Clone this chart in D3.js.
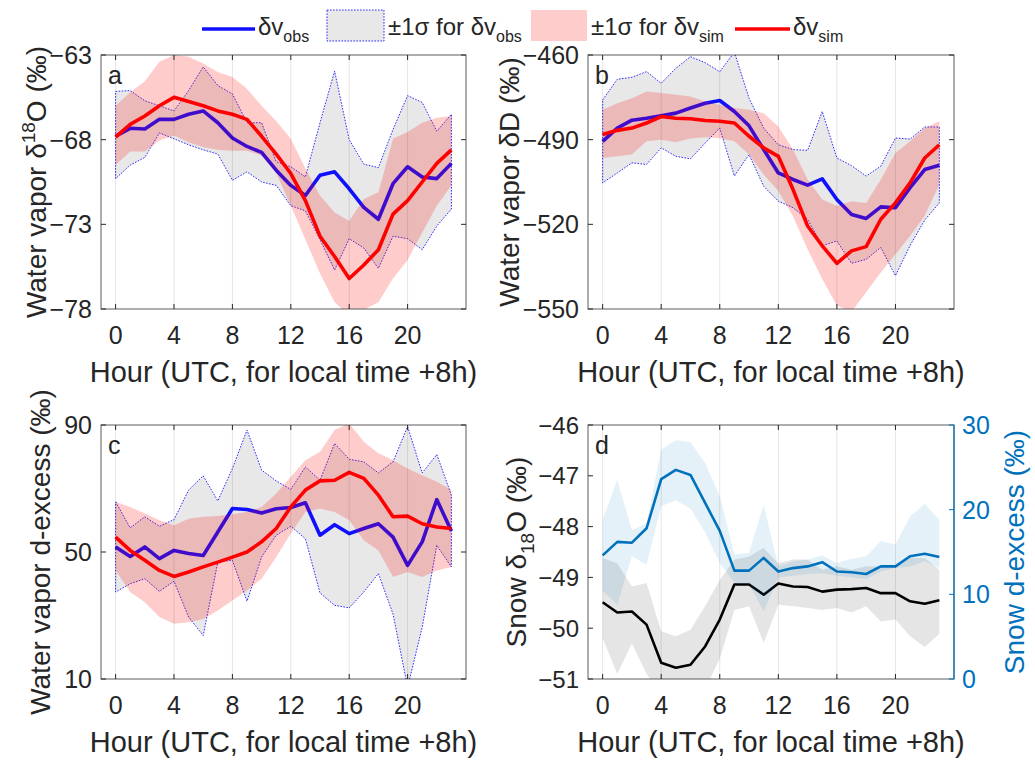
<!DOCTYPE html>
<html><head><meta charset="utf-8">
<script src="https://cdn.jsdelivr.net/npm/d3@7"></script>
<style>body{margin:0;background:#fff} text{font-family:"Liberation Sans",Arial,sans-serif;fill:#262626}</style>
</head><body><svg id="chart" width="1035" height="760"></svg>
<script>
// ---------- data ----------
const hours = d3.range(0, 24);
const xTicks = [0, 4, 8, 12, 16, 20];

// Panel a: water vapour d18O
const a_obs      = [-67.8,-67.33,-67.37,-66.8,-66.8,-66.5,-66.3,-67.0,-67.9,-68.4,-68.75,-69.8,-70.7,-71.3,-70.1,-69.9,-70.9,-72.0,-72.7,-70.6,-69.6,-70.2,-70.3,-69.4];
const a_obsHi    = [-65.15,-65.1,-65.7,-66.0,-66.3,-65.1,-63.7,-64.8,-65.3,-67.0,-67.0,-69.3,-69.6,-70.2,-67.0,-63.95,-68.0,-69.45,-69.65,-67.4,-65.4,-65.8,-67.5,-66.5];
const a_obsLo    = [-70.3,-69.5,-69.05,-67.6,-67.95,-68.3,-68.6,-68.85,-70.4,-69.9,-70.5,-70.7,-71.9,-72.2,-73.9,-75.7,-73.85,-74.4,-75.6,-73.7,-73.85,-74.5,-73.1,-72.1];
const a_sim      = [-67.85,-67.1,-66.6,-66.0,-65.5,-65.75,-66.0,-66.3,-66.5,-66.8,-67.8,-68.85,-70.0,-71.6,-73.7,-74.9,-76.2,-75.4,-74.5,-72.4,-71.6,-70.5,-69.4,-68.6];
const a_simHi    = [-66.0,-65.2,-64.55,-63.4,-63.0,-63.1,-63.5,-64.0,-64.3,-65.0,-66.0,-66.9,-67.95,-69.7,-71.3,-72.3,-72.8,-71.5,-71.1,-67.95,-67.55,-67.0,-66.7,-66.6];
const a_simLo    = [-69.5,-68.7,-68.7,-68.05,-67.75,-68.15,-68.45,-68.6,-68.65,-68.65,-68.95,-69.95,-71.9,-73.9,-75.9,-77.6,-78.4,-78.05,-77.6,-76.2,-75.1,-73.5,-71.9,-70.7];

// Panel b: water vapour dD
const b_obs      = [-490.6,-485.9,-483.1,-482.4,-481.5,-480.6,-478.8,-477.1,-476.1,-480.0,-485.1,-493.5,-501.8,-504.1,-506.1,-503.9,-511.2,-516.5,-517.9,-513.8,-514.1,-507.0,-500.6,-499.1];
const b_obsHi    = [-475.9,-468.6,-467.9,-465.9,-470.0,-464.7,-460.6,-462.7,-465.9,-459.0,-475.3,-485.9,-491.8,-493.5,-493.8,-480.0,-496.5,-499.2,-502.9,-499.4,-489.4,-489.8,-485.5,-485.5];
const b_obsLo    = [-505.3,-501.8,-498.2,-498.8,-492.9,-495.9,-496.8,-491.2,-485.9,-502.9,-495.3,-506.5,-511.8,-514.1,-518.2,-527.6,-525.9,-533.8,-532.4,-528.2,-538.2,-527.5,-518.5,-512.4];
const b_sim      = [-488.2,-486.7,-485.9,-484.1,-481.8,-482.4,-482.6,-483.2,-483.5,-484.1,-488.8,-492.9,-495.9,-507.6,-520.6,-527.6,-533.8,-529.4,-527.9,-518.2,-512.4,-505.3,-496.5,-491.8];
const b_simHi    = [-479.4,-477.1,-475.3,-472.9,-473.5,-474.1,-474.7,-476.5,-477.6,-478.8,-479.4,-480.6,-485.3,-493.5,-504.1,-511.2,-513.5,-511.8,-512.4,-504.1,-494.7,-490.6,-485.9,-483.5];
const b_simLo    = [-496.5,-495.9,-495.3,-490.6,-490.0,-490.9,-489.6,-489.1,-489.5,-490.6,-495.3,-502.4,-508.2,-517.1,-528.8,-539.4,-548.8,-551.0,-544.1,-537.1,-530.6,-524.1,-517.0,-505.9];

// Panel c: water vapour d-excess
const c_obs      = [51.6,48.6,51.6,47.9,50.5,49.5,48.9,56.3,63.7,63.4,62.3,63.6,64.0,65.5,55.3,58.6,55.8,57.4,58.9,54.7,45.8,53.2,66.5,56.6];
const c_obsHi    = [65.8,57.6,61.1,58.1,60.2,69.5,74.0,66.1,76.3,88.4,75.8,72.4,69.7,76.8,72.6,84.2,79.2,78.4,74.9,78.4,89.5,74.9,80.7,67.9];
const c_obsLo    = [37.4,40.0,41.6,37.6,40.8,29.5,23.7,46.8,47.4,34.5,48.4,55.3,58.1,54.2,37.1,33.2,32.4,37.4,43.2,30.5,7.4,26.3,52.1,45.3];
const c_sim      = [54.7,50.5,47.4,44.2,42.3,43.7,45.3,46.8,48.4,50.0,53.2,57.4,64.2,69.5,72.4,72.6,75.1,73.2,67.9,61.1,61.3,58.9,57.9,57.4];
const c_simHi    = [65.8,64.2,62.1,60.0,58.4,60.5,61.1,61.3,61.9,62.6,64.2,68.4,73.7,78.9,81.6,88.4,90.5,84.7,81.1,78.9,76.3,74.2,72.1,69.5];
const c_simLo    = [44.2,37.4,34.2,29.5,27.4,27.9,28.9,31.6,34.7,37.9,41.6,48.4,55.8,62.6,63.7,62.6,60.0,53.7,50.5,42.1,43.7,42.1,44.2,45.3];

// Panel d: snow d18O (left) and snow d-excess (right)
const d_o18      = [-49.49,-49.69,-49.67,-49.93,-50.68,-50.78,-50.72,-50.36,-49.83,-49.14,-49.14,-49.34,-49.12,-49.18,-49.19,-49.28,-49.24,-49.23,-49.21,-49.31,-49.31,-49.47,-49.52,-49.45];
const d_o18Hi    = [-48.62,-48.72,-49.18,-49.11,-50.06,-50.16,-50.03,-49.57,-49.05,-48.65,-48.59,-48.42,-48.72,-48.65,-48.65,-48.85,-48.78,-48.85,-48.78,-48.78,-48.78,-48.62,-48.62,-48.85];
const d_o18Lo    = [-50.2,-50.9,-50.3,-50.9,-51.3,-51.4,-51.4,-51.2,-50.6,-49.64,-49.57,-50.29,-49.54,-49.57,-49.6,-49.64,-49.6,-49.69,-49.57,-49.87,-49.83,-50.16,-50.37,-50.11];
const d_dex      = [14.6,16.2,16.1,17.8,23.6,24.7,24.1,20.8,17.5,12.8,12.8,14.3,12.7,13.1,13.3,13.8,12.7,12.6,12.4,13.3,13.3,14.5,14.8,14.4];
const d_dexHi    = [18.8,23.5,17.6,18.4,27.1,28.2,28.0,25.5,21.6,14.7,14.9,20.6,13.3,13.9,14.1,14.6,13.7,14.2,14.5,16.3,15.9,19.2,20.7,18.8];
const d_dexLo    = [10.4,8.8,14.5,13.5,20.4,21.1,20.1,17.3,13.7,11.4,11.2,8.0,12.0,12.2,12.4,12.5,12.2,12.0,11.8,12.7,13.1,13.3,13.9,13.1];

const aTicks = [-78,-73,-68,-63];
const bTicks = [-550,-520,-490,-460];
const cTicks = [10,50,90];
const dTicksL = [-51,-50,-49,-48,-47,-46];
const dTicksR = [0,10,20,30];

// ---------- drawing ----------
const svg = d3.select("#chart");
const FS_TICK = 25, FS_XLAB = 29, FS_YLAB = 28;
const AXC = "#262626", DBLUE = "#0072bd";
const fmt = d3.format("");
let clipId = 0;

function frame(left, right, top, bottom, yDomain) {
  const x = d3.scaleLinear().domain([-1, 24]).range([left, right]);
  const y = d3.scaleLinear().domain(yDomain).range([bottom, top]);
  const id = "clip" + (clipId++);
  svg.append("clipPath").attr("id", id).append("rect")
    .attr("x", left).attr("y", top).attr("width", right - left).attr("height", bottom - top);
  const g = svg.append("g").attr("clip-path", `url(#${id})`);
  return {x, y, g, left, right, top, bottom};
}

function band(f, hi, lo, yScale, fill, opts = {}) {
  const ys = yScale || f.y;
  const area = d3.area().x((d, i) => f.x(hours[i])).y0((d, i) => ys(lo[i])).y1(d => ys(d));
  f.g.append("path").datum(hi).attr("d", area).attr("fill", fill)
    .attr("fill-opacity", opts.opacity == null ? 1 : opts.opacity);
  if (opts.edge) {
    const pts = hours.map((h, i) => [f.x(h), ys(hi[i])]).concat(hours.slice().reverse().map(h => [f.x(h), ys(lo[h])]));
    f.g.append("path").attr("d", "M" + pts.join("L") + "Z").attr("fill", "none")
      .attr("stroke", opts.edge).attr("stroke-width", 0.9).attr("stroke-dasharray", "1.6,1.4");
  }
}

function line(f, vals, color, w, yScale) {
  const ys = yScale || f.y;
  f.g.append("path").datum(vals)
    .attr("d", d3.line().x((d, i) => f.x(hours[i])).y(d => ys(d)))
    .attr("fill", "none").attr("stroke", color).attr("stroke-width", w)
    .attr("stroke-linejoin", "round");
}

function axes(f, ticks, label, opts = {}) {
  xTicks.forEach(t => {
    svg.append("line").attr("x1", f.x(t)).attr("x2", f.x(t)).attr("y1", f.top).attr("y2", f.bottom)
      .attr("stroke", "#000").attr("stroke-opacity", 0.1).attr("stroke-width", 1);
  });
  const tl = 5;
  xTicks.forEach(t => {
    const xx = f.x(t);
    svg.append("line").attr("x1", xx).attr("x2", xx).attr("y1", f.bottom).attr("y2", f.bottom - tl).attr("stroke", AXC);
    svg.append("line").attr("x1", xx).attr("x2", xx).attr("y1", f.top).attr("y2", f.top + tl).attr("stroke", AXC);
    svg.append("text").attr("x", xx).attr("y", f.bottom + 35).attr("text-anchor", "middle")
      .attr("font-size", FS_TICK).text(fmt(t));
  });
  ticks.forEach(t => {
    const yy = f.y(t);
    svg.append("line").attr("x1", f.left).attr("x2", f.left + tl).attr("y1", yy).attr("y2", yy).attr("stroke", AXC);
    if (!opts.noRightTicks)
      svg.append("line").attr("x1", f.right).attr("x2", f.right - tl).attr("y1", yy).attr("y2", yy).attr("stroke", AXC);
    svg.append("text").attr("x", f.left - 9).attr("y", yy).attr("dy", "0.36em").attr("text-anchor", "end")
      .attr("font-size", opts.tickFs || FS_TICK).text(fmt(t));
  });
  svg.append("rect").attr("x", f.left).attr("y", f.top).attr("width", f.right - f.left).attr("height", f.bottom - f.top)
    .attr("fill", "none").attr("stroke", AXC).attr("stroke-width", 1).attr("stroke-opacity", 0.75);
  svg.append("text").attr("x", (f.left + f.right) / 2).attr("y", f.bottom + 73).attr("text-anchor", "middle")
    .attr("font-size", FS_XLAB).text("Hour (UTC, for local time +8h)");
  svg.append("text").attr("x", f.left + 7).attr("y", f.top + 29).attr("font-size", 25).attr("fill", "#000").text(opts.letter);
  const yl = svg.append("text").attr("transform", `translate(${opts.labelX},${(f.top + f.bottom) / 2}) rotate(-90)`)
    .attr("text-anchor", "middle").attr("font-size", FS_YLAB);
  label(yl);
}

function permil(t) { t.append("tspan").text(" (‰)"); }

// Panel a
{
  const f = frame(101, 466, 55, 309, [-78, -63]);
  band(f, a_obsHi, a_obsLo, null, "#e8e8e8", {edge: "#1a1aff"});
  line(f, a_obs, "#1010ff", 3.6);
  band(f, a_simHi, a_simLo, null, "#ff0000", {opacity: 0.2});
  line(f, a_sim, "#ff0000", 3.6);
  axes(f, aTicks, t => {
    t.append("tspan").text("Water vapor δ");
    t.append("tspan").attr("font-size", 19).attr("dy", -11).text("18");
    t.append("tspan").attr("dy", 11).text("O");
    permil(t);
  }, {letter: "a", labelX: 46});
}
// Panel b
{
  const f = frame(588, 954, 55, 309, [-550, -460]);
  band(f, b_obsHi, b_obsLo, null, "#e8e8e8", {edge: "#1a1aff"});
  line(f, b_obs, "#1010ff", 3.6);
  band(f, b_simHi, b_simLo, null, "#ff0000", {opacity: 0.2});
  line(f, b_sim, "#ff0000", 3.6);
  axes(f, bTicks, t => { t.append("tspan").text("Water vapor δD"); permil(t); }, {letter: "b", labelX: 519});
}
// Panel c
{
  const f = frame(101, 466, 425, 679, [10, 90]);
  band(f, c_obsHi, c_obsLo, null, "#e8e8e8", {edge: "#1a1aff"});
  line(f, c_obs, "#1010ff", 3.6);
  band(f, c_simHi, c_simLo, null, "#ff0000", {opacity: 0.2});
  line(f, c_sim, "#ff0000", 3.6);
  axes(f, cTicks, t => { t.append("tspan").text("Water vapor d-excess"); permil(t); }, {letter: "c", labelX: 50});
}
// Panel d
{
  const f = frame(588, 954, 425, 679, [-51, -46]);
  const yR = d3.scaleLinear().domain([0, 30]).range([679, 425]);
  band(f, d_o18Hi, d_o18Lo, null, "#000000", {opacity: 0.1});
  line(f, d_o18, "#000000", 2.6);
  band(f, d_dexHi, d_dexLo, yR, DBLUE, {opacity: 0.1});
  line(f, d_dex, DBLUE, 2.6, yR);
  axes(f, dTicksL, t => {
    t.append("tspan").text("Snow δ");
    t.append("tspan").attr("font-size", 19).attr("dy", 8).text("18");
    t.append("tspan").attr("dy", -8).text("O");
    permil(t);
  }, {letter: "d", noRightTicks: true, labelX: 526, tickFs: 24});
  svg.append("line").attr("x1", 954).attr("x2", 954).attr("y1", 425).attr("y2", 679).attr("stroke", DBLUE).attr("stroke-width", 1.2);
  dTicksR.forEach(t => {
    const yy = yR(t);
    svg.append("line").attr("x1", 954).attr("x2", 949).attr("y1", yy).attr("y2", yy).attr("stroke", DBLUE);
    svg.append("text").attr("x", 962).attr("y", yy).attr("dy", "0.36em").attr("font-size", FS_TICK)
      .style("fill", DBLUE).text(fmt(t));
  });
  svg.append("text").attr("transform", `translate(1024,552) rotate(-90)`).attr("text-anchor", "middle")
    .attr("font-size", FS_YLAB).style("fill", DBLUE).text("Snow d-excess (‰)");
}

// ---------- legend ----------
{
  const L = svg.append("g");
  const yMid = 29, fs = 24, sub = 16;
  function lbl(x, main, s) {
    const t = L.append("text").attr("x", x).attr("y", 35).attr("font-size", fs);
    t.append("tspan").text(main);
    t.append("tspan").attr("font-size", sub).attr("dy", 7).text(s);
  }
  L.append("line").attr("x1", 202).attr("x2", 255).attr("y1", yMid).attr("y2", yMid).attr("stroke", "#1010ff").attr("stroke-width", 3.6);
  lbl(258, "δv", "obs");
  L.append("rect").attr("x", 327).attr("y", 10).attr("width", 57).attr("height", 31).attr("fill", "#e8e8e8")
    .attr("stroke", "#1a1aff").attr("stroke-width", 0.9).attr("stroke-dasharray", "1.6,1.4");
  lbl(388, "±1σ for δv", "obs");
  L.append("rect").attr("x", 531).attr("y", 10).attr("width", 56).attr("height", 31).attr("fill", "#ff0000").attr("fill-opacity", 0.2);
  lbl(591, "±1σ for δv", "sim");
  L.append("line").attr("x1", 735).attr("x2", 790).attr("y1", yMid).attr("y2", yMid).attr("stroke", "#ff0000").attr("stroke-width", 3.6);
  lbl(793, "δv", "sim");
}
</script></body></html>
